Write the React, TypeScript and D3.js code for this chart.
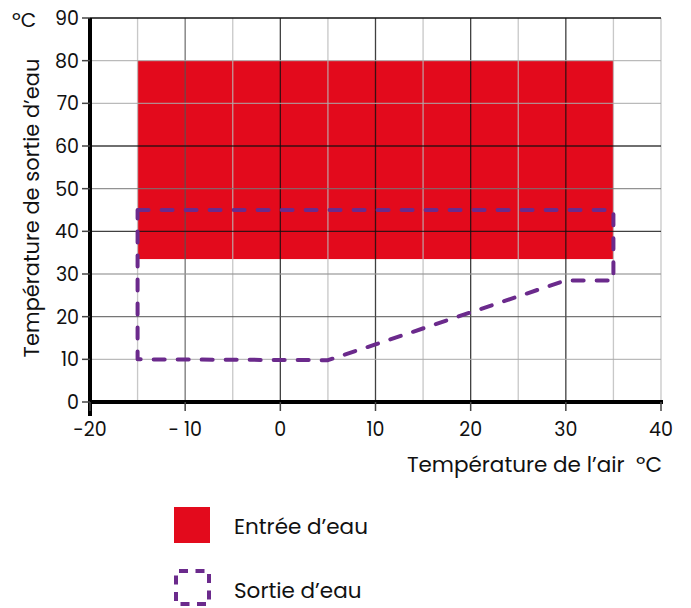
import React from "react";
import * as d3 from "d3";

// operating envelope
const inletX: [number, number] = [-15, 35];
const inletY: [number, number] = [33.5, 80];

const outletX = [-15, 35, 35, 30, 20, 10, 5, -15, -15];
const outletY = [45, 45, 28.5, 28.5, 21, 13.5, 9.8, 10, 45];

const xTicks = [-20, -10, 0, 10, 20, 30, 40];
const yTicks = [0, 10, 20, 30, 40, 50, 60, 70, 80, 90];
const xMinor = [-15, -5, 5, 15, 25, 35];

const red = "#e30a1c";
const purple = "#6b2a8c";
const font = "Poppins, 'Open Sans', Inter, sans-serif";

const majorX: Record<number, string> = { [-10]: "#555", 0: "#111", 10: "#111", 20: "#111", 30: "#111", 40: "#bbb" };
const gridY: Record<number, string> = {
  10: "#aaa", 20: "#555", 30: "#999", 40: "#111", 50: "#777", 60: "#111", 70: "#aaa", 80: "#aaa",
};

export default function App() {
  const W = 691;
  const H = 608;
  const x = d3.scaleLinear().domain([-20, 40]).range([90, 661]);
  const y = d3.scaleLinear().domain([0, 90]).range([402, 18]);

  const line = d3
    .line<number>()
    .x((_d, i) => x(outletX[i]))
    .y((d) => y(d));

  return (
    <svg width={W} height={H} style={{ position: "absolute", left: 0, top: 0 }} fontFamily={font}>
      <rect x={0} y={0} width={W} height={H} fill="#fff" />
      <rect
        x={x(inletX[0])}
        y={y(inletY[1])}
        width={x(inletX[1]) - x(inletX[0])}
        height={y(inletY[0]) - y(inletY[1])}
        fill={red}
      />
      {/* grid */}
      {xMinor.map((v) => (
        <line key={"xm" + v} x1={x(v)} x2={x(v)} y1={y(0)} y2={y(90)} stroke="#bbb" strokeWidth={1.3} opacity={0.8} />
      ))}
      {xTicks.slice(1).map((v) => (
        <line key={"xM" + v} x1={x(v)} x2={x(v)} y1={y(0)} y2={y(90)} stroke={majorX[v]} strokeWidth={1.3} opacity={0.8} />
      ))}
      {yTicks.slice(1, -1).map((v) => (
        <line key={"yg" + v} x1={x(-20)} x2={x(40)} y1={y(v)} y2={y(v)} stroke={gridY[v]} strokeWidth={1.3} opacity={0.8} />
      ))}
      <line x1={x(-20)} x2={x(40)} y1={y(90)} y2={y(90)} stroke="#111" strokeWidth={1.5} />

      {/* outlet envelope */}
      <path
        d={line(outletY) ?? ""}
        fill="none"
        stroke={purple}
        strokeWidth={4}
        strokeDasharray="11,13"
        strokeLinecap="round"
        strokeLinejoin="round"
      />

      {/* axes */}
      <line x1={x(-20)} x2={x(-20)} y1={y(90)} y2={y(0) + 14} stroke="#000" strokeWidth={4} />
      <line x1={x(-20)} x2={x(40) + 2} y1={y(0)} y2={y(0)} stroke="#000" strokeWidth={4} />
      {yTicks.map((v) => (
        <g key={"yt" + v}>
          <line x1={x(-20) - 8} x2={x(-20)} y1={y(v)} y2={y(v)} stroke="#444" strokeWidth={1.5} />
          <text x={x(-20) - 11} y={y(v)} dy="0.36em" textAnchor="end" fontSize={19} fill="#111">
            {v}
          </text>
        </g>
      ))}
      {xTicks.map((v) => (
        <g key={"xt" + v}>
          <line x1={x(v)} x2={x(v)} y1={y(0)} y2={y(0) + 9} stroke="#444" strokeWidth={1.5} />
          <text x={x(v)} y={y(0) + 34} textAnchor="middle" fontSize={19} fill="#111">
            {v < 0 && v > -20 ? "- " + Math.abs(v) : v === -20 ? "-20" : v}
          </text>
        </g>
      ))}

      {/* titles */}
      <text x={12} y={27} fontSize={20} fill="#111">
        ºC
      </text>
      <text
        transform={`translate(39, 208) rotate(-90)`}
        textAnchor="middle"
        fontSize={21}
        fill="#111"
      >
        Température de sortie d’eau
      </text>
      <text x={662} y={472} textAnchor="end" fontSize={21.5} fill="#111">
        Température de l’air{"\u00a0\u00a0"}ºC
      </text>

      {/* legend */}
      <rect x={174} y={507} width={36} height={36} fill={red} />
      <text x={234} y={526} dy="0.36em" fontSize={21.5} fill="#111">
        Entrée d’eau
      </text>
      <rect
        x={176}
        y={571}
        width={33}
        height={33}
        fill="none"
        stroke={purple}
        strokeWidth={4}
        strokeDasharray="9,7.5"
        strokeDashoffset={-3}
      />
      <text x={234} y={590} dy="0.36em" fontSize={21.5} fill="#111">
        Sortie d’eau
      </text>
    </svg>
  );
}
